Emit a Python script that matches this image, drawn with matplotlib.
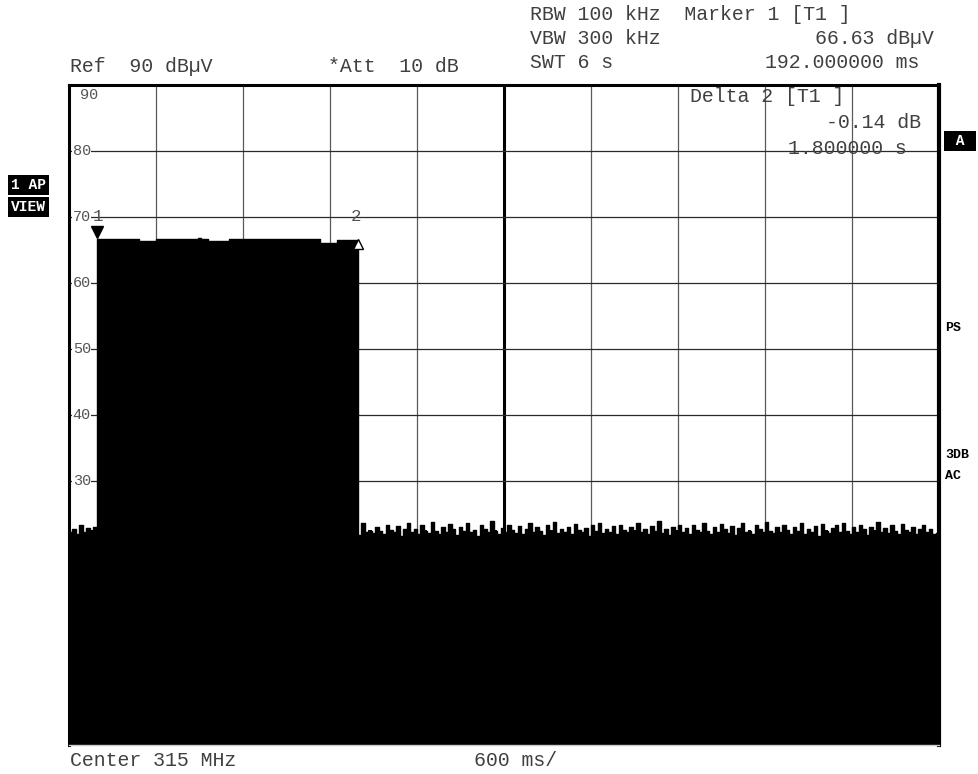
import numpy as np
import matplotlib
matplotlib.use("Agg")
import matplotlib.pyplot as plt

# sweep settings: 6 s span, 10 divisions, ref level 90 dBuV, 10 dB/div
sweep_ms = 6000
step_ms = 24
ref_level = 90
db_div = 10

# trace levels (dBuV), one per 24 ms sample
noise_before = [22.2, 22.8, 22.0, 23.3, 22.3, 22.9, 22.5, 23.0]

pulse = ([66.63] + [66.6] * 11 + [66.3] * 5 + [66.6] * 12 + [66.8]
         + [66.7] * 2 + [66.4] * 6 + [66.6] * 26 + [66.1] * 5 + [66.5] * 6)

noise_after = [
    21.8, 23.7, 22.3, 22.5, 22.1, 23.0, 22.4, 21.9, 23.4, 22.6, 22.2, 23.2, 21.7, 22.8, 23.6, 22.3, 22.7, 22.0, 23.3, 22.5,
    22.1, 23.8, 22.4, 21.9, 23.1, 22.3, 23.5, 22.7, 21.8, 23.0, 22.4, 23.7, 22.2, 22.6, 21.6, 23.3, 22.8, 22.3, 23.9, 22.5,
    22.0, 22.9, 22.3, 23.4, 22.6, 22.1, 23.2, 21.9, 22.7, 23.6, 22.2, 23.0, 22.4, 21.8, 23.3, 22.5, 23.8, 22.1, 22.8, 22.3,
    23.1, 22.0, 23.5, 22.6, 22.2, 22.9, 21.7, 23.3, 22.4, 23.7, 22.1, 22.8, 22.3, 23.2, 21.9, 23.4, 22.6, 22.2, 23.0, 22.5,
    23.6, 22.3, 22.8, 22.0, 23.2, 22.4, 23.9, 22.1, 22.7, 21.8, 23.1, 22.5, 23.4, 22.2, 22.9, 22.0, 23.3, 22.6, 22.3, 23.7,
    22.4, 21.9, 23.0, 22.3, 23.5, 22.7, 22.1, 23.2, 21.8, 22.9, 23.6, 22.2, 22.5, 22.0, 23.3, 22.8, 22.3, 23.8, 22.4, 22.1,
    23.0, 22.2, 23.4, 22.6, 21.9, 23.1, 22.4, 23.7, 22.0, 22.8, 22.3, 23.2, 21.7, 23.5, 22.5, 22.1, 22.9, 23.3, 22.2, 23.6,
    22.4, 22.0, 23.1, 22.3, 23.4, 22.7, 21.8, 23.0, 22.5, 23.8, 22.2, 22.9, 22.1, 23.3, 22.4, 21.9, 23.5, 22.6, 22.3, 23.1,
    22.0, 22.8, 23.4, 22.2, 22.7, 21.9, 22.1,
]

# markers
m1_time = 192.0
m1_level = 66.63
delta_time = 1800.0
delta_db = -0.14

trace = np.array(noise_before + pulse + noise_after)
t = np.arange(len(trace)) * step_ms
# extend last step to end of sweep
t_ext = np.append(t, sweep_ms)
trace_ext = np.append(trace, trace[-1])

W, H = 979, 774
fig = plt.figure(figsize=(W / 100, H / 100), dpi=100)
fig.patch.set_facecolor("white")

def px(x, y):
    return x / W, 1 - y / H

left, top, right, bottom = 69, 85, 939, 745
ax = fig.add_axes([left / W, 1 - bottom / H, (right - left) / W, (bottom - top) / H])
ylo = ref_level - 10 * db_div
ax.set_xlim(0, sweep_ms)
ax.set_ylim(ylo, ref_level)

# graticule
for k in range(1, 10):
    x = k * sweep_ms / 10
    if k == 5:
        ax.axvline(x, color="black", lw=2.2, zorder=1)
    else:
        ax.axvline(x, color="#5a5a5a", lw=0.9, zorder=1)
for k in range(1, 10):
    ax.axhline(ref_level - k * db_div, color="#2a2a2a", lw=0.9, zorder=1)

# trace, filled down to the bottom of the screen
ax.fill_between(t_ext, trace_ext, ylo, step="post", color="black", lw=0, zorder=2)
ax.step(t_ext, trace_ext, where="post", color="black", lw=1.0, zorder=3)

ax.set_xticks([])
ax.set_yticks([])
for s in ["left", "top"]:
    ax.spines[s].set_linewidth(2.2)
ax.spines["right"].set_linewidth(3.0)
ax.spines["bottom"].set_color("#cccccc")
ax.spines["bottom"].set_linewidth(1.0)

# level labels
tick_font = dict(family="Liberation Mono", fontsize=11, color="#555555")
ax.text(75, ref_level - 0.5, "90", va="top", ha="left", zorder=4, **tick_font)
for lv in range(80, 20, -10):
    ax.text(25, lv, str(lv), va="center", ha="left", zorder=4,
            bbox=dict(facecolor="white", edgecolor="none", pad=0.3), **tick_font)

# marker symbols
m2_time = m1_time + delta_time
m2_level = m1_level + delta_db
mk_font = dict(family="Liberation Mono", fontsize=12.5, color="#555555")
ax.plot([m1_time], [m1_level + 1.1], marker="v", color="black", ms=8, zorder=5, clip_on=False)
ax.plot([m2_time], [m2_level - 0.6], marker="^", mfc="white", mec="black", ms=7, mew=1.0,
        zorder=5, clip_on=False)
ax.text(m1_time + 10, m1_level + 3.4, "1", ha="center", va="center", zorder=5, **mk_font)
ax.text(m2_time - 15, m1_level + 3.4, "2", ha="center", va="center", zorder=5, **mk_font)

# header text
hdr = dict(family="Liberation Mono", fontsize=14.3, color="#404040", va="center")
fig.text(*px(530, 14), "RBW 100 kHz  Marker 1 [T1 ]", ha="left", **hdr)
fig.text(*px(530, 38), "VBW 300 kHz", ha="left", **hdr)
fig.text(*px(934, 38), f"{m1_level:.2f} dB\u00b5V", ha="right", **hdr)
fig.text(*px(530, 62), "SWT 6 s", ha="left", **hdr)
fig.text(*px(919, 62), f"{m1_time:.6f} ms", ha="right", **hdr)
fig.text(*px(70, 66), f"Ref  {ref_level} dB\u00b5V", ha="left", **hdr)
fig.text(*px(328, 66), "*Att  10 dB", ha="left", **hdr)

# delta marker readout
fig.text(*px(690, 97), "Delta 2 [T1 ]", ha="left", **hdr)
fig.text(*px(921, 123), f"{delta_db:.2f} dB", ha="right", **hdr)
fig.text(*px(907, 148), f"{delta_time / 1000:.6f} s", ha="right", **hdr)

# footer
fig.text(*px(70, 761), "Center 315 MHz", ha="left", **hdr)
fig.text(*px(474, 761), f"{sweep_ms // 10} ms/", ha="left", **hdr)

# side annotations
box = dict(family="Liberation Mono", fontsize=10.5, fontweight="bold", color="white", va="center",
           bbox=dict(facecolor="black", edgecolor="none", pad=2.0))
fig.text(*px(11, 185), "1 AP", ha="left", **box)
fig.text(*px(11, 207), "VIEW", ha="left", **box)
fig.text(*px(960, 141), " A ", ha="center", **box)
side = dict(family="Liberation Mono", fontsize=9.5, fontweight="bold", color="black", va="center")
fig.text(*px(945, 328), "PS", ha="left", **side)
fig.text(*px(945, 455), "3DB", ha="left", **side)
fig.text(*px(945, 476), "AC", ha="left", **side)

fig.savefig("out.png", dpi=100)
